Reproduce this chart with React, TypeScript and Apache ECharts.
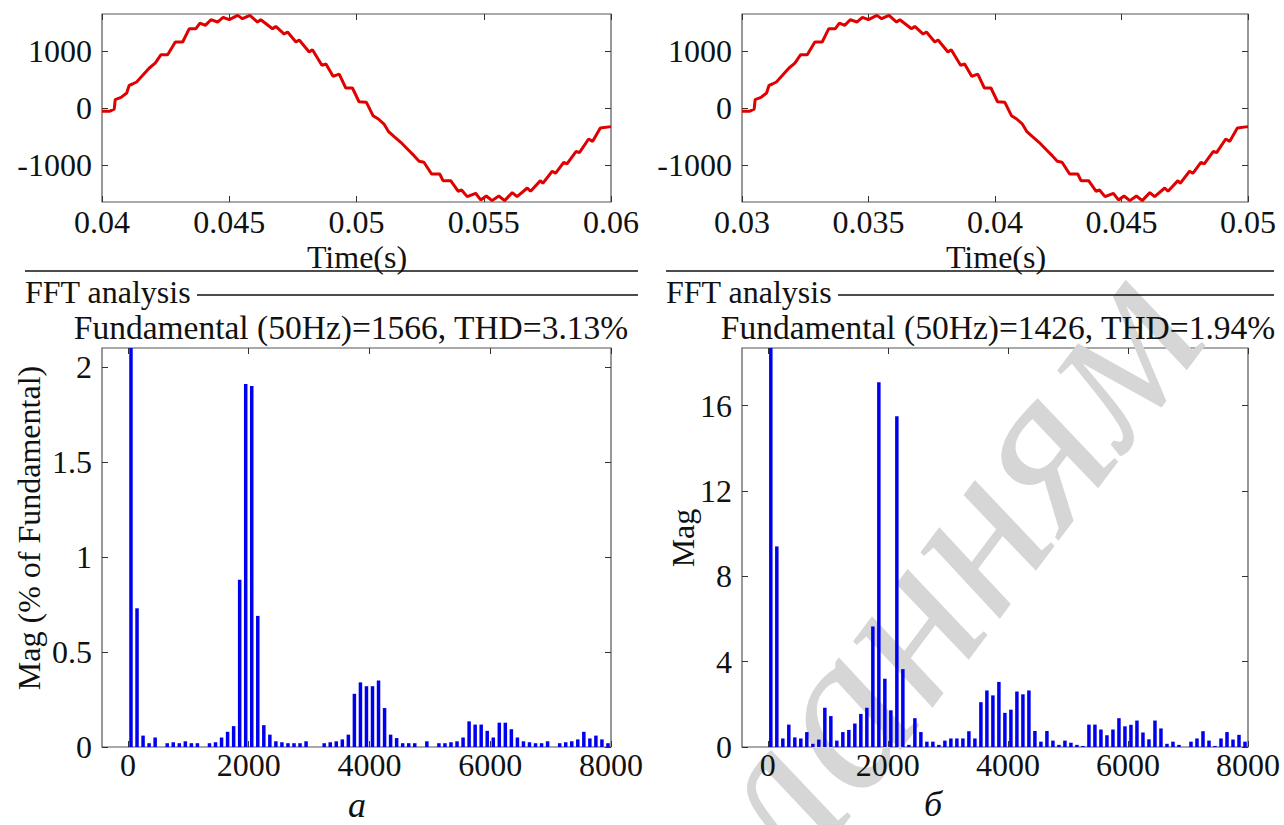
import React, { useEffect, useRef } from "react";
import * as echarts from "echarts";

// ---- waveform (top plots) ----
const waveTimeA = [
  0.04, 0.04029, 0.04048, 0.04052, 0.04075, 0.04097, 0.04107, 0.0412, 0.04136, 0.0416,
  0.04186, 0.04209, 0.04232, 0.04258, 0.04288, 0.04317, 0.04343, 0.04369, 0.04385, 0.04406,
  0.04428, 0.04454, 0.04476, 0.045, 0.04533, 0.04552, 0.04581, 0.04611, 0.04624, 0.0467,
  0.04683, 0.04716, 0.04729, 0.04762, 0.04775, 0.04814, 0.04827, 0.04864, 0.0488, 0.04908,
  0.04932, 0.04958, 0.04984, 0.0501, 0.05039, 0.05065, 0.05086, 0.05108, 0.05125, 0.05148,
  0.05174, 0.052, 0.05226, 0.05246, 0.05265, 0.05295, 0.05327, 0.0534, 0.0537, 0.054,
  0.05413, 0.05435, 0.05468, 0.05488, 0.0551, 0.05533, 0.05559, 0.05582, 0.05612, 0.05631,
  0.05671, 0.05684, 0.05723, 0.05732, 0.05769, 0.05782, 0.05814, 0.05827, 0.05863, 0.05876,
  0.05912, 0.05928, 0.05958, 0.06,
];
const waveTimeB = [
  0.03, 0.03029, 0.03048, 0.03052, 0.03075, 0.03097, 0.03107, 0.0312, 0.03136, 0.0316,
  0.03186, 0.03209, 0.03232, 0.03258, 0.03288, 0.03317, 0.03343, 0.03369, 0.03385, 0.03406,
  0.03428, 0.03454, 0.03476, 0.035, 0.03533, 0.03552, 0.03581, 0.03611, 0.03624, 0.0367,
  0.03683, 0.03716, 0.03729, 0.03762, 0.03775, 0.03814, 0.03827, 0.03864, 0.0388, 0.03908,
  0.03932, 0.03958, 0.03984, 0.0401, 0.04039, 0.04065, 0.04086, 0.04108, 0.04125, 0.04148,
  0.04174, 0.042, 0.04226, 0.04246, 0.04265, 0.04295, 0.04327, 0.0434, 0.0437, 0.044,
  0.04413, 0.04435, 0.04468, 0.04488, 0.0451, 0.04533, 0.04559, 0.04582, 0.04612, 0.04631,
  0.04671, 0.04684, 0.04723, 0.04732, 0.04769, 0.04782, 0.04814, 0.04827, 0.04863, 0.04876,
  0.04912, 0.04928, 0.04958, 0.05,
];
const waveValues = [
  -58, -58, -20, 146, 187, 263, 398, 421, 456, 573,
  702, 789, 936, 936, 1158, 1158, 1392, 1392, 1491, 1450,
  1550, 1509, 1591, 1550, 1626, 1567, 1626, 1509, 1550, 1392,
  1433, 1298, 1333, 1158, 1193, 982, 1023, 749, 772, 556,
  596, 351, 351, 110, 99, -135, -193, -281, -409, -503,
  -602, -719, -836, -936, -953, -1158, -1158, -1275, -1275, -1462,
  -1439, -1556, -1497, -1614, -1544, -1626, -1544, -1626, -1485, -1556,
  -1404, -1462, -1275, -1322, -1111, -1146, -953, -982, -760, -784,
  -544, -585, -351, -327,
];
const waveXTicksA = [0.04, 0.045, 0.05, 0.055, 0.06];
const waveXTicksB = [0.03, 0.035, 0.04, 0.045, 0.05];
const waveYTicks = [-1000, 0, 1000];

// ---- FFT spectra (bottom plots) ----
const fftFreq = [
  50, 150, 250, 350, 450, 550, 650, 750, 850, 950,
  1050, 1150, 1250, 1350, 1450, 1550, 1650, 1750, 1850, 1950,
  2050, 2150, 2250, 2350, 2450, 2550, 2650, 2750, 2850, 2950,
  3050, 3150, 3250, 3350, 3450, 3550, 3650, 3750, 3850, 3950,
  4050, 4150, 4250, 4350, 4450, 4550, 4650, 4750, 4850, 4950,
  5050, 5150, 5250, 5350, 5450, 5550, 5650, 5750, 5850, 5950,
  6050, 6150, 6250, 6350, 6450, 6550, 6650, 6750, 6850, 6950,
  7050, 7150, 7250, 7350, 7450, 7550, 7650, 7750, 7850, 7950,
];
const fftMagA = [
  100, 0.73, 0.06, 0.02, 0.05, 0, 0.02, 0.025, 0.02, 0.03,
  0.02, 0.02, 0, 0.02, 0.025, 0.05, 0.08, 0.11, 0.88, 1.91,
  1.9, 0.69, 0.115, 0.065, 0.03, 0.025, 0.02, 0.02, 0.02, 0.03,
  0, 0, 0.02, 0.025, 0.03, 0.04, 0.065, 0.28, 0.34, 0.32,
  0.32, 0.35, 0.205, 0.065, 0.047, 0.02, 0.02, 0.02, 0, 0.03,
  0, 0.02, 0.02, 0.025, 0.03, 0.05, 0.135, 0.118, 0.118, 0.085,
  0.05, 0.128, 0.128, 0.094, 0.05, 0.03, 0.025, 0.02, 0.02, 0.03,
  0, 0.02, 0.025, 0.03, 0.04, 0.08, 0.045, 0.06, 0.04, 0.02,
];
const fftMagB = [
  1426, 9.4, 0.4, 1.05, 0.45, 0.4, 0.7, 0.15, 0.35, 1.84,
  1.45, 0.3, 0.7, 0.8, 1.1, 1.55, 1.84, 5.65, 17.1, 3.2,
  1.72, 15.5, 3.65, 0.1, 1.35, 0.7, 0.25, 0.25, 0.1, 0.3,
  0.4, 0.4, 0.4, 0.74, 0.4, 2.1, 2.65, 2.42, 3.05, 1.6,
  1.75, 2.6, 2.47, 2.65, 0.75, 0.25, 0.75, 0.3, 0.1, 0.3,
  0.2, 0.1, 0.05, 1.05, 1.05, 0.82, 0.55, 0.82, 1.35, 0.97,
  1.04, 1.24, 0.68, 0.36, 1.24, 0.87, 0.15, 0.25, 0.1, 0,
  0.25, 0.4, 0.74, 0.3, 0.05, 0.4, 0.7, 0.35, 0.57, 0.25,
];
const fftXTicks = [0, 2000, 4000, 6000, 8000];
const fftYTicksA = [0, 0.5, 1, 1.5, 2];
const fftYTicksB = [0, 4, 8, 12, 16];

const titleA = "Fundamental (50Hz)=1566, THD=3.13%";
const titleB = "Fundamental (50Hz)=1426, THD=1.94%";

const FONT = "'Liberation Serif', 'Times New Roman', serif";
const FS = 32;
const FRAME = "#555";

function zip(xs: number[], ys: number[]) {
  return xs.map((x, i) => [x, ys[i]]);
}

function xPair(gi: number, min: number, max: number, ticks: number[], margin: number) {
  const tick = { show: true, inside: true, length: 6, customValues: ticks, lineStyle: { color: "#333", width: 1 } };
  return [
    {
      type: "value", gridIndex: gi, min, max, position: "bottom",
      axisLine: { show: false, onZero: false }, splitLine: { show: false },
      axisTick: tick,
      axisLabel: { customValues: ticks, formatter: (v: number) => String(v), fontFamily: FONT, fontSize: FS, color: "#111", margin },
    },
    {
      type: "value", gridIndex: gi, min, max, position: "top",
      axisLine: { show: false, onZero: false }, splitLine: { show: false },
      axisTick: tick, axisLabel: { show: false },
    },
  ];
}

function yPair(gi: number, min: number, max: number, ticks: number[], margin: number) {
  const tick = { show: true, inside: true, length: 6, customValues: ticks, lineStyle: { color: "#333", width: 1 } };
  return [
    {
      type: "value", gridIndex: gi, min, max, position: "left",
      axisLine: { show: false, onZero: false }, splitLine: { show: false },
      axisTick: tick,
      axisLabel: { customValues: ticks, formatter: (v: number) => String(v), fontFamily: FONT, fontSize: FS, color: "#111", margin },
    },
    {
      type: "value", gridIndex: gi, min, max, position: "right",
      axisLine: { show: false, onZero: false }, splitLine: { show: false },
      axisTick: tick, axisLabel: { show: false },
    },
  ];
}

function txt(text: string, x: number, y: number, opts: any = {}) {
  return {
    type: "text", x, y, z: 10, rotation: opts.rotation || 0,
    style: {
      text, fill: opts.fill || "#111",
      fontFamily: FONT, fontSize: opts.fontSize || FS, fontStyle: opts.fontStyle || "normal",
      align: opts.align || "center", textAlign: opts.align || "center",
      verticalAlign: "middle", textVerticalAlign: "middle",
    },
  };
}

function hline(x1: number, x2: number, y: number) {
  return { type: "line", z: 10, shape: { x1, y1: y, x2, y2: y }, style: { stroke: "#111", lineWidth: 1.6 } };
}

export default function App() {
  const ref = useRef<HTMLDivElement>(null);
  useEffect(() => {
    if (!ref.current) return;
    const chart = echarts.init(ref.current, null, { renderer: "svg" });
    const gridStyle = { show: true, borderColor: FRAME, borderWidth: 1.2, backgroundColor: "transparent" };
    const option: any = {
      animation: false,
      backgroundColor: "#fff",
      grid: [
        { left: 102, top: 14, width: 509, height: 188, ...gridStyle },
        { left: 742, top: 14, width: 506, height: 188, ...gridStyle },
        { left: 102, top: 348, width: 509, height: 399, ...gridStyle },
        { left: 742, top: 348, width: 506, height: 399, ...gridStyle },
      ],
      xAxis: [
        ...xPair(0, 0.04, 0.06, waveXTicksA, 4),
        ...xPair(1, 0.03, 0.05, waveXTicksB, 4),
        ...xPair(2, -430, 8000, fftXTicks, 2),
        ...xPair(3, -430, 8000, fftXTicks, 2),
      ],
      yAxis: [
        ...yPair(0, -1650, 1650, waveYTicks, 10),
        ...yPair(1, -1650, 1650, waveYTicks, 10),
        ...yPair(2, 0, 2.1, fftYTicksA, 10),
        ...yPair(3, 0, 18.7, fftYTicksB, 10),
      ],
      series: [
        {
          type: "line", xAxisIndex: 0, yAxisIndex: 0, data: zip(waveTimeA, waveValues),
          symbol: "none", clip: true, lineStyle: { color: "#e00000", width: 3 }, z: 3,
        },
        {
          type: "line", xAxisIndex: 2, yAxisIndex: 2, data: zip(waveTimeB, waveValues),
          symbol: "none", clip: true, lineStyle: { color: "#e00000", width: 3 }, z: 3,
        },
        {
          type: "bar", xAxisIndex: 4, yAxisIndex: 4, data: zip(fftFreq, fftMagA),
          barWidth: 3.5, clip: true, itemStyle: { color: "#0000f0" }, z: 3,
        },
        {
          type: "bar", xAxisIndex: 6, yAxisIndex: 6, data: zip(fftFreq, fftMagB),
          barWidth: 3.5, clip: true, itemStyle: { color: "#0000f0" }, z: 3,
        },
      ],
      graphic: [
        {
          type: "text", x: 945, y: 565, z: 0, rotation: (53 * Math.PI) / 180,
          style: {
            text: "ланням", fill: "#d6d6d6", fontFamily: FONT, fontSize: 225, fontStyle: "italic",
            align: "center", textAlign: "center", verticalAlign: "middle", textVerticalAlign: "middle",
          },
        },
        txt("Time(s)", 357, 257),
        txt("Time(s)", 996, 257),
        hline(25, 638, 271),
        hline(666, 1274, 271),
        txt("FFT analysis", 25, 292, { align: "left" }),
        txt("FFT analysis", 666, 292, { align: "left" }),
        hline(197, 638, 295),
        hline(838, 1274, 295),
        txt(titleA, 351, 327, { fontSize: 33.5 }),
        txt(titleB, 998, 327, { fontSize: 33.5 }),
        txt("Mag (% of Fundamental)", 29, 528, { rotation: Math.PI / 2 }),
        txt("Mag", 683, 538, { rotation: Math.PI / 2 }),
        txt("а", 357, 805, { fontStyle: "italic", fontSize: 36 }),
        txt("б", 933, 804, { fontStyle: "italic", fontSize: 36 }),
      ],
    };
    chart.setOption(option);
    return () => chart.dispose();
  }, []);
  return <div ref={ref} style={{ position: "fixed", left: 0, top: 0, width: 1284, height: 825 }} />;
}
